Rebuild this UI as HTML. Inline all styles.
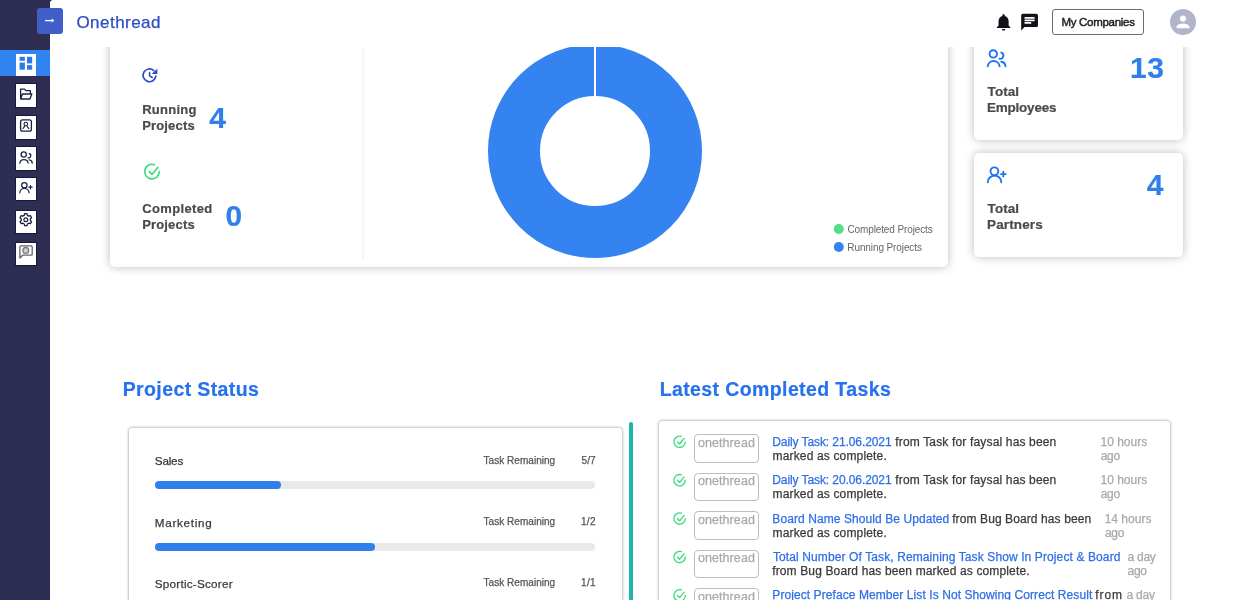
<!DOCTYPE html>
<html lang="en">
<head>
<meta charset="utf-8">
<title>Onethread</title>
<style>
*{box-sizing:border-box}
html,body{margin:0;padding:0}
body{width:1239px;height:600px;overflow:hidden;position:relative;background:#2e2d52;font-family:"Liberation Sans",sans-serif;color:#333}
.abs,.t,.side,.main,.hdr,.card,.pcard,.box,.bar,.fill,.badge{position:absolute}
.t{white-space:nowrap;margin:0}
.lk{color:#2e6fe6}
.main{left:50px;top:0;width:1189px;height:600px;background:#fff;border-top-left-radius:4px;overflow:hidden}
.scroll{position:absolute;left:-50px;top:0;width:1239px;height:600px}
.hdr{left:50px;top:0;width:1189px;height:47px;background:#fff;border-top-left-radius:4px}
.side{left:0;top:0;width:50px;height:600px;background:#2e2d52}
.act{position:absolute;left:0;top:50px;width:50px;height:26.3px;background:#3183ef}
.box{left:16px;width:20px;background:#fff;box-shadow:0 0 0 .8px rgba(10,8,50,.75)}
.tog{position:absolute;left:37px;top:8px;width:26px;height:26px;border-radius:3px;background:#3f5ec8}
.card{background:#fff;border-radius:5px;box-shadow:0 0 10px rgba(0,0,0,.27)}
.pcard{background:#fff;border-radius:3px;box-shadow:0 0 3px rgba(0,0,0,.5)}
.bar{left:155.2px;width:440.2px;height:7.8px;border-radius:4px;background:#e9e9e9}
.fill{left:0;top:0;height:7.8px;border-radius:4px;background:#2f80ed}
.badge{left:694px;width:65px;height:28.6px;border:1px solid #bdbdbd;border-radius:4px;background:#fff}
.btn{position:absolute;left:1052px;top:9px;width:92px;height:26px;border:1px solid #6b6b6b;border-radius:3px;background:#fff}
svg{position:absolute;overflow:visible}

</style>
</head>
<body>
<div class="main">
 <div class="scroll">
  <!-- summary card -->
  <div class="card" style="left:110px;top:30px;width:838.2px;height:236.7px"></div>
    <svg width="1239" height="300" style="left:0;top:0" viewBox="0 0 1239 300">
   <rect x="362.4" y="30" width="1" height="229.6" fill="#eeeeee"/>
   <circle cx="595" cy="151" r="81" fill="none" stroke="#3583f0" stroke-width="52"/>
   <rect x="594" y="40" width="2" height="57" fill="#fff"/>
   <circle cx="838.8" cy="229" r="5" fill="#4fe085"/>
   <circle cx="838.8" cy="247" r="5" fill="#3583f0"/>
  </svg>
  <!-- right cards -->
  <div class="card" style="left:973.6px;top:35.5px;width:209.5px;height:104.6px"></div>
  <div class="card" style="left:973.6px;top:152.6px;width:209.5px;height:104.4px"></div>
  <!-- project status -->
  <div class="pcard" style="left:129px;top:427.6px;width:493px;height:200px"></div>
  <div class="abs" style="left:628.5px;top:421.5px;width:4px;height:200px;border-radius:2px;background:#1cb5b0"></div>
  <div class="bar" style="top:481.3px"><div class="fill" style="width:125.6px"></div></div>
  <div class="bar" style="top:542.8px"><div class="fill" style="width:220px"></div></div>
  <!-- tasks -->
  <div class="pcard" style="left:659px;top:421.2px;width:511.3px;height:200px"></div>
  <div class="badge" style="top:434.3px"></div>
  <div class="badge" style="top:472.7px"></div>
  <div class="badge" style="top:511.1px"></div>
  <div class="badge" style="top:549.5px"></div>
  <div class="badge" style="top:587.9px"></div>
  <svg width="1239" height="600" viewBox="0 0 1239 600" style="left:0;top:0">
<g fill="none" stroke="#2a4bc7" stroke-width="1.7" stroke-linecap="round" stroke-linejoin="round"><path d="M153.78 70.54 A6.4 6.4 0 1 0 155.84 76.19"/><path d="M149.6 72.4 V75.9 L152.2 77.5" stroke-width="1.5"/></g><path d="M157.3 68.7 V73.9 H151.7 Z" fill="#2a4bc7"/>
<g fill="none" stroke="#33de78" stroke-width="1.6" stroke-linecap="round" stroke-linejoin="round"><path d="M154.26 164.66 A7.30 7.30 0 1 0 159.30 171.60"/><path d="M149.20 171.70 L152.00 174.40 L157.80 167.40"/></g>
<g fill="none" stroke="#1f75f0" stroke-width="1.9" stroke-linecap="round"><circle cx="993.30" cy="53.90" r="3.70"/><path d="M987.70 66.30 A6.00 6.00 0 0 1 999.60 66.30"/><path d="M1001.30 52.60 A3.20 3.20 0 0 1 999.40 58.70"/><path d="M1001.30 61.70 A5.00 5.00 0 0 1 1005.50 66.30"/></g>
<g fill="none" stroke="#1f75f0" stroke-width="1.9" stroke-linecap="round"><circle cx="994.40" cy="171.30" r="3.90"/><path d="M987.80 182.20 A6.75 6.60 0 0 1 1001.30 182.20"/><path d="M1003.30 171.80 V176.40 M1001.00 174.10 H1005.60"/></g>
<g fill="none" stroke="#33de78" stroke-width="1.3" stroke-linecap="round" stroke-linejoin="round"><path d="M681.36 436.38 A5.70 5.70 0 1 0 685.30 441.80"/><path d="M677.41 441.88 L679.60 443.99 L684.13 438.52"/></g>
<g fill="none" stroke="#33de78" stroke-width="1.3" stroke-linecap="round" stroke-linejoin="round"><path d="M681.36 474.78 A5.70 5.70 0 1 0 685.30 480.20"/><path d="M677.41 480.28 L679.60 482.39 L684.13 476.92"/></g>
<g fill="none" stroke="#33de78" stroke-width="1.3" stroke-linecap="round" stroke-linejoin="round"><path d="M681.36 513.18 A5.70 5.70 0 1 0 685.30 518.60"/><path d="M677.41 518.68 L679.60 520.79 L684.13 515.32"/></g>
<g fill="none" stroke="#33de78" stroke-width="1.3" stroke-linecap="round" stroke-linejoin="round"><path d="M681.36 551.58 A5.70 5.70 0 1 0 685.30 557.00"/><path d="M677.41 557.08 L679.60 559.19 L684.13 553.72"/></g>
<g fill="none" stroke="#33de78" stroke-width="1.3" stroke-linecap="round" stroke-linejoin="round"><path d="M681.36 589.98 A5.70 5.70 0 1 0 685.30 595.40"/><path d="M677.41 595.48 L679.60 597.59 L684.13 592.12"/></g>
</svg>
 </div>
</div>
<div class="hdr"></div>
<div class="side">
 <div class="act"></div>
 <div class="box" style="top:54px;height:22px;box-shadow:none"></div>
 <div class="box" style="top:83.7px;height:23.3px"></div>
 <div class="box" style="top:116px;height:22.8px"></div>
 <div class="box" style="top:147px;height:23px"></div>
 <div class="box" style="top:178px;height:22.3px"></div>
 <div class="box" style="top:210.7px;height:22.6px"></div>
 <div class="box" style="top:242.7px;height:22.6px"></div>
 <svg width="50" height="600" viewBox="0 0 50 600" style="left:0;top:0">
<rect x="19.6" y="56.8" width="5.3" height="4.0" fill="#2a78ee"/>
<rect x="27.0" y="56.8" width="5.2" height="6.6" fill="#2a78ee"/>
<rect x="19.6" y="62.6" width="5.3" height="7.1" fill="#2a78ee"/>
<rect x="27.0" y="65.1" width="5.2" height="4.6" fill="#2a78ee"/>
<path fill="none" stroke="#1c2143" stroke-width="1.3" stroke-linecap="round" stroke-linejoin="round" d="M20.6 98.6 V89.2 H24.6 L25.8 90.6 H30.4 V93.6 M20.6 99 L22.4 94 H31.8 L30 99 Z"/>
<g fill="none" stroke="#1c2143" stroke-width="1.3" stroke-linecap="round" stroke-linejoin="round"><rect x="20.6" y="119.8" width="10.8" height="11.4" rx="2"/><circle cx="25.8" cy="124" r="1.8" stroke-width="1.1"/><path stroke-width="1.1" d="M22.9 128.6 L24.6 126.3 M28.9 128.6 L27.1 126.3"/></g>
<g fill="none" stroke="#1c2143" stroke-width="1.25" stroke-linecap="round"><circle cx="23.71" cy="154.53" r="2.59"/><path d="M19.79 163.21 A4.20 4.20 0 0 1 28.12 163.21"/><path d="M29.31 153.62 A2.24 2.24 0 0 1 27.98 157.89"/><path d="M29.31 159.99 A3.50 3.50 0 0 1 32.25 163.21"/></g>
<g fill="none" stroke="#1c2143" stroke-width="1.25" stroke-linecap="round"><circle cx="24.34" cy="185.30" r="2.69"/><path d="M19.78 192.82 A4.66 4.55 0 0 1 29.10 192.82"/><path d="M30.48 185.64 V188.82 M28.89 187.23 H32.06"/></g>
<path fill="none" stroke="#1c2143" stroke-width="1.3" stroke-linecap="round" stroke-linejoin="round" stroke-width="1.2" d="M27.40 224.01 L27.01 225.68 L24.59 225.68 L24.20 224.01 L22.87 223.24 L21.22 223.73 L20.02 221.65 L21.26 220.47 L21.26 218.93 L20.02 217.75 L21.22 215.67 L22.87 216.16 L24.20 215.39 L24.59 213.72 L27.01 213.72 L27.40 215.39 L28.73 216.16 L30.38 215.67 L31.58 217.75 L30.34 218.93 L30.34 220.47 L31.58 221.65 L30.38 223.73 L28.73 223.24Z"/><circle cx="25.8" cy="219.7" r="1.9" fill="none" stroke="#1c2143" stroke-width="1.2"/>
<g fill="none" stroke="#666" stroke-width="1.3" stroke-linejoin="round"><path d="M20.8 245.8 H31.2 Q32.2 245.8 32.2 246.8 V254.2 Q32.2 255.2 31.2 255.2 H22.6 L19.9 258 V246.8 Q19.9 245.8 20.8 245.8 Z"/><circle cx="25.8" cy="250.4" r="2.9" stroke-width="1.3" stroke="#7a7a7a" fill="#cfcfcf"/></g>
</svg>
</div>
<div class="tog"></div>
<div class="btn"></div>
<svg width="1239" height="50" viewBox="0 0 1239 50" style="left:0;top:0">
<path d="M45 20.6 H52.3" stroke="#fff" stroke-width="1.3" fill="none"/><path d="M51.6 18.6 L54.4 20.6 L51.6 22.6 Z" fill="#fff"/>
<g transform="translate(993.5 12.1) scale(0.84)"><path fill="#0f1216" d="M12 22c1.1 0 2-.9 2-2h-4c0 1.1.89 2 2 2zm6-6v-5c0-3.07-1.64-5.64-4.5-6.32V4c0-.83-.67-1.5-1.5-1.5s-1.5.67-1.5 1.5v.68C7.63 5.36 6 7.92 6 11v5l-2 2v1h16v-1l-2-2z"/></g>
<g transform="translate(1019.5 12.0) scale(0.84)"><path fill="#0f1216" d="M20 2H4c-1.1 0-1.99.9-1.99 2L2 22l4-4h14c1.1 0 2-.9 2-2V4c0-1.1-.9-2-2-2zM6 9h12v2H6V9zm8 5H6v-2h8v2zm4-6H6V6h12v2z"/></g>
<circle cx="1183" cy="22" r="13" fill="#b1b5cb"/><g transform="translate(1173.4 12.2) scale(0.8)"><path fill="#fff" d="M12 12c2.21 0 4-1.79 4-4s-1.79-4-4-4-4 1.79-4 4 1.79 4 4 4zm0 2c-2.67 0-8 1.34-8 4v2h16v-2c0-2.66-5.33-4-8-4z"/></g>
</svg>
<div class="t" style="left:76.4px;top:13px;font-size:17px;line-height:20px;color:#2b4cc2;letter-spacing:0.47px;-webkit-text-stroke:0.25px currentColor;">Onethread</div>
<div class="t" style="left:1061.4px;top:15px;font-size:11.5px;line-height:14px;color:#1d1d1d;letter-spacing:-0.29px;-webkit-text-stroke:0.45px currentColor;">My Companies</div>
<div class="t" style="left:142.2px;top:102px;font-size:13px;line-height:16px;color:#4a4a4a;font-weight:700;letter-spacing:0.26px;-webkit-text-stroke:0.2px currentColor;">Running</div>
<div class="t" style="left:142.2px;top:118px;font-size:13px;line-height:16px;color:#4a4a4a;font-weight:700;letter-spacing:0.16px;-webkit-text-stroke:0.2px currentColor;">Projects</div>
<div class="t" style="left:209.3px;top:100px;font-size:30px;line-height:36px;color:#2f80ed;font-weight:700;-webkit-text-stroke:0.2px currentColor;">4</div>
<div class="t" style="left:142.2px;top:201px;font-size:13px;line-height:16px;color:#4a4a4a;font-weight:700;letter-spacing:0.36px;-webkit-text-stroke:0.2px currentColor;">Completed</div>
<div class="t" style="left:142.2px;top:217px;font-size:13px;line-height:16px;color:#4a4a4a;font-weight:700;letter-spacing:0.16px;-webkit-text-stroke:0.2px currentColor;">Projects</div>
<div class="t" style="left:225.6px;top:198px;font-size:30px;line-height:36px;color:#2f80ed;font-weight:700;-webkit-text-stroke:0.2px currentColor;">0</div>
<div class="t" style="left:847.4px;top:224px;font-size:10px;line-height:12px;color:#666;letter-spacing:-0.11px;-webkit-text-stroke:0;">Completed Projects</div>
<div class="t" style="left:847.3px;top:242px;font-size:10px;line-height:12px;color:#666;letter-spacing:-0.10px;-webkit-text-stroke:0;">Running Projects</div>
<div class="t" style="left:987.6px;top:84px;font-size:13.5px;line-height:16px;color:#4a4a4a;font-weight:700;letter-spacing:0.07px;-webkit-text-stroke:0.2px currentColor;">Total</div>
<div class="t" style="left:987.0px;top:100px;font-size:13.5px;line-height:16px;color:#4a4a4a;font-weight:700;letter-spacing:-0.23px;-webkit-text-stroke:0.2px currentColor;">Employees</div>
<div class="t" style="left:1130.1px;top:50px;font-size:30px;line-height:36px;color:#2f80ed;font-weight:700;letter-spacing:0.45px;-webkit-text-stroke:0.2px currentColor;">13</div>
<div class="t" style="left:987.6px;top:201px;font-size:13.5px;line-height:16px;color:#4a4a4a;font-weight:700;letter-spacing:0.07px;-webkit-text-stroke:0.2px currentColor;">Total</div>
<div class="t" style="left:987.0px;top:217px;font-size:13.5px;line-height:16px;color:#4a4a4a;font-weight:700;letter-spacing:0.13px;-webkit-text-stroke:0.2px currentColor;">Partners</div>
<div class="t" style="left:1146.7px;top:167px;font-size:30px;line-height:36px;color:#2f80ed;font-weight:700;-webkit-text-stroke:0.2px currentColor;">4</div>
<div class="t" style="left:122.7px;top:378px;font-size:19.5px;line-height:23px;color:#2672ee;font-weight:700;letter-spacing:0.39px;-webkit-text-stroke:0.2px currentColor;">Project Status</div>
<div class="t" style="left:659.7px;top:378px;font-size:19.5px;line-height:23px;color:#2672ee;font-weight:700;letter-spacing:0.39px;-webkit-text-stroke:0.2px currentColor;">Latest Completed Tasks</div>
<div class="t" style="left:154.8px;top:454px;font-size:11.7px;line-height:14px;color:#3a3a3a;letter-spacing:-0.19px;-webkit-text-stroke:0.25px currentColor;">Sales</div>
<div class="t" style="left:483.6px;top:455px;font-size:10px;line-height:12px;color:#555;letter-spacing:0.03px;-webkit-text-stroke:0.25px currentColor;">Task Remaining</div>
<div class="t" style="left:581.4px;top:455px;font-size:10px;line-height:12px;color:#555;letter-spacing:0.19px;-webkit-text-stroke:0.25px currentColor;">5/7</div>
<div class="t" style="left:154.8px;top:516px;font-size:11.7px;line-height:14px;color:#3a3a3a;letter-spacing:0.71px;-webkit-text-stroke:0.25px currentColor;">Marketing</div>
<div class="t" style="left:483.6px;top:516px;font-size:10px;line-height:12px;color:#555;letter-spacing:0.03px;-webkit-text-stroke:0.25px currentColor;">Task Remaining</div>
<div class="t" style="left:580.9px;top:516px;font-size:10px;line-height:12px;color:#555;letter-spacing:0.35px;-webkit-text-stroke:0.25px currentColor;">1/2</div>
<div class="t" style="left:154.8px;top:577px;font-size:11.7px;line-height:14px;color:#3a3a3a;letter-spacing:0.24px;-webkit-text-stroke:0.25px currentColor;">Sportic-Scorer</div>
<div class="t" style="left:483.6px;top:577px;font-size:10px;line-height:12px;color:#555;letter-spacing:0.03px;-webkit-text-stroke:0.25px currentColor;">Task Remaining</div>
<div class="t" style="left:580.9px;top:577px;font-size:10px;line-height:12px;color:#555;letter-spacing:0.44px;-webkit-text-stroke:0.25px currentColor;">1/1</div>
<div class="t" style="left:772.3px;top:435px;font-size:12px;line-height:14px;color:#2e6fe6;letter-spacing:-0.09px;-webkit-text-stroke:0.25px currentColor;"><span class="lk">Daily Task: 21.06.2021</span></div>
<div class="t" style="left:895.3px;top:435px;font-size:12px;line-height:14px;color:#3a3a3a;letter-spacing:0.16px;-webkit-text-stroke:0.25px currentColor;">from Task for faysal has been</div>
<div class="t" style="left:772.5px;top:449px;font-size:12px;line-height:14px;color:#3a3a3a;letter-spacing:0.16px;-webkit-text-stroke:0.25px currentColor;">marked as complete.</div>
<div class="t" style="left:1100.5px;top:435px;font-size:12px;line-height:14px;color:#a9a9a9;-webkit-text-stroke:0.25px currentColor;">10 hours</div>
<div class="t" style="left:1100.7px;top:449px;font-size:12px;line-height:14px;color:#a9a9a9;letter-spacing:-0.28px;-webkit-text-stroke:0.25px currentColor;">ago</div>
<div class="t" style="left:697.9px;top:436px;font-size:12.5px;line-height:15px;color:#a9a9a9;letter-spacing:0.09px;-webkit-text-stroke:0.25px currentColor;">onethread</div>
<div class="t" style="left:772.3px;top:473px;font-size:12px;line-height:14px;color:#2e6fe6;letter-spacing:-0.09px;-webkit-text-stroke:0.25px currentColor;"><span class="lk">Daily Task: 20.06.2021</span></div>
<div class="t" style="left:895.3px;top:473px;font-size:12px;line-height:14px;color:#3a3a3a;letter-spacing:0.16px;-webkit-text-stroke:0.25px currentColor;">from Task for faysal has been</div>
<div class="t" style="left:772.5px;top:487px;font-size:12px;line-height:14px;color:#3a3a3a;letter-spacing:0.16px;-webkit-text-stroke:0.25px currentColor;">marked as complete.</div>
<div class="t" style="left:1100.5px;top:473px;font-size:12px;line-height:14px;color:#a9a9a9;-webkit-text-stroke:0.25px currentColor;">10 hours</div>
<div class="t" style="left:1100.7px;top:487px;font-size:12px;line-height:14px;color:#a9a9a9;letter-spacing:-0.28px;-webkit-text-stroke:0.25px currentColor;">ago</div>
<div class="t" style="left:697.9px;top:474px;font-size:12.5px;line-height:15px;color:#a9a9a9;letter-spacing:0.09px;-webkit-text-stroke:0.25px currentColor;">onethread</div>
<div class="t" style="left:772.3px;top:512px;font-size:12px;line-height:14px;color:#2e6fe6;letter-spacing:0.08px;-webkit-text-stroke:0.25px currentColor;"><span class="lk">Board Name Should Be Updated</span></div>
<div class="t" style="left:952.2px;top:512px;font-size:12px;line-height:14px;color:#3a3a3a;letter-spacing:0.10px;-webkit-text-stroke:0.25px currentColor;">from Bug Board has been</div>
<div class="t" style="left:772.5px;top:526px;font-size:12px;line-height:14px;color:#3a3a3a;letter-spacing:0.16px;-webkit-text-stroke:0.25px currentColor;">marked as complete.</div>
<div class="t" style="left:1104.7px;top:512px;font-size:12px;line-height:14px;color:#a9a9a9;-webkit-text-stroke:0.25px currentColor;">14 hours</div>
<div class="t" style="left:1104.9px;top:526px;font-size:12px;line-height:14px;color:#a9a9a9;letter-spacing:-0.28px;-webkit-text-stroke:0.25px currentColor;">ago</div>
<div class="t" style="left:697.9px;top:513px;font-size:12.5px;line-height:15px;color:#a9a9a9;letter-spacing:0.09px;-webkit-text-stroke:0.25px currentColor;">onethread</div>
<div class="t" style="left:772.9px;top:550px;font-size:12px;line-height:14px;color:#2e6fe6;letter-spacing:0.11px;-webkit-text-stroke:0.25px currentColor;"><span class="lk">Total Number Of Task, Remaining Task Show In Project &amp; Board</span></div>
<div class="t" style="left:772.2px;top:564px;font-size:12px;line-height:14px;color:#3a3a3a;letter-spacing:0.14px;-webkit-text-stroke:0.25px currentColor;">from Bug Board has been marked as complete.</div>
<div class="t" style="left:1127.5px;top:550px;font-size:12px;line-height:14px;color:#a9a9a9;letter-spacing:-0.25px;-webkit-text-stroke:0.25px currentColor;">a day</div>
<div class="t" style="left:1127.5px;top:564px;font-size:12px;line-height:14px;color:#a9a9a9;letter-spacing:-0.28px;-webkit-text-stroke:0.25px currentColor;">ago</div>
<div class="t" style="left:697.9px;top:551px;font-size:12.5px;line-height:15px;color:#a9a9a9;letter-spacing:0.09px;-webkit-text-stroke:0.25px currentColor;">onethread</div>
<div class="t" style="left:772.3px;top:588px;font-size:12px;line-height:14px;color:#2e6fe6;letter-spacing:0.08px;-webkit-text-stroke:0.25px currentColor;"><span class="lk">Project Preface Member List Is Not Showing Correct Result</span></div>
<div class="t" style="left:1095.3px;top:588px;font-size:12px;line-height:14px;color:#3a3a3a;letter-spacing:0.89px;-webkit-text-stroke:0.25px currentColor;">from</div>
<div class="t" style="left:1126.6px;top:588px;font-size:12px;line-height:14px;color:#a9a9a9;letter-spacing:-0.25px;-webkit-text-stroke:0.25px currentColor;">a day</div>
<div class="t" style="left:697.9px;top:590px;font-size:12.5px;line-height:15px;color:#a9a9a9;letter-spacing:0.09px;-webkit-text-stroke:0.25px currentColor;">onethread</div>

</body>
</html>
